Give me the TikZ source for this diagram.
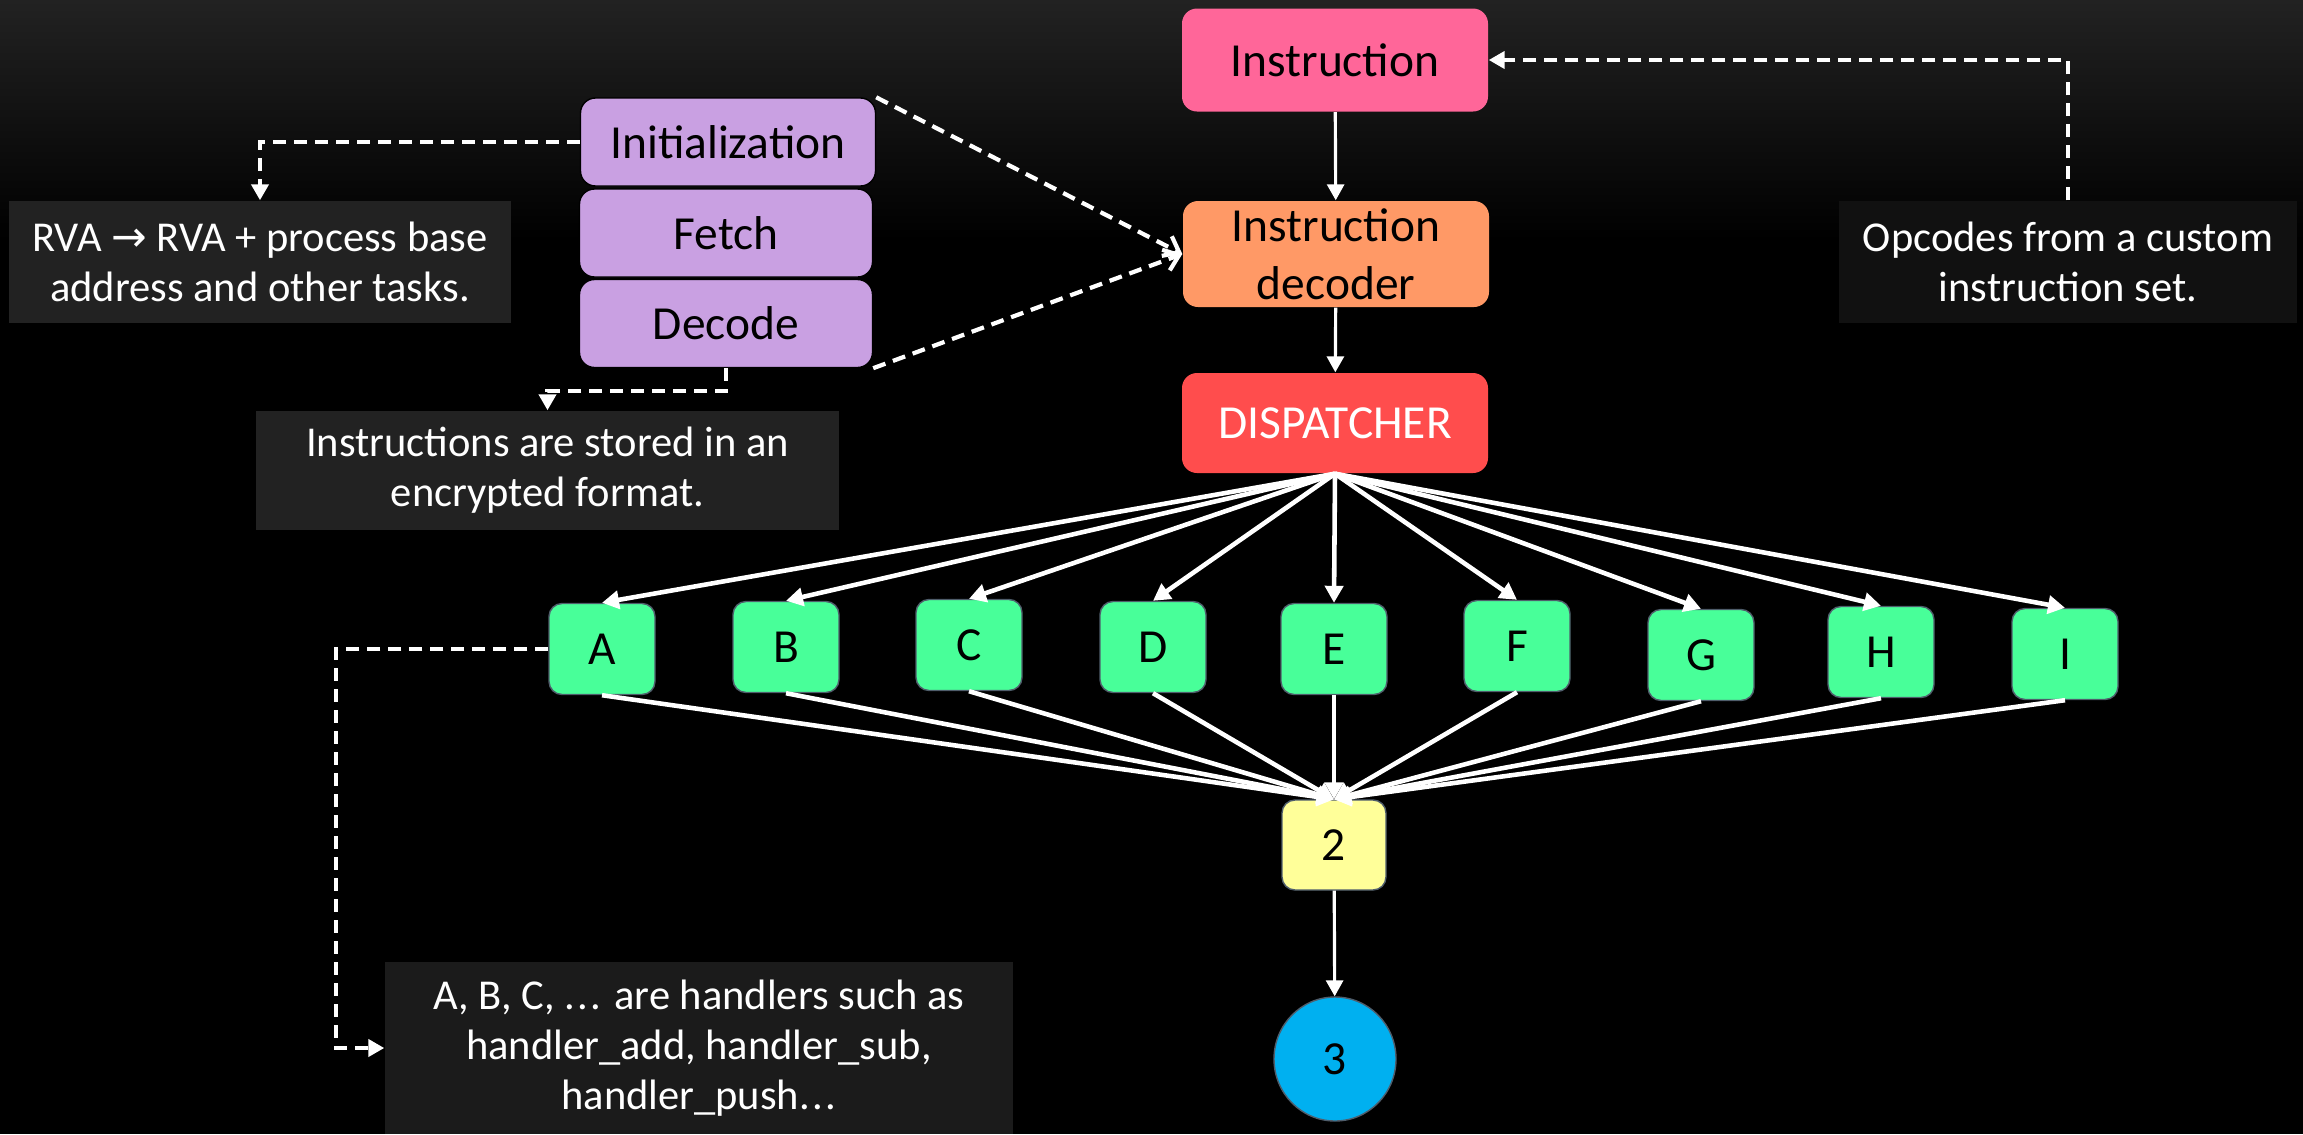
\documentclass[tikz,border=0pt]{standalone}
\usepackage{fontspec}
\setmainfont{Carlito}
\newfontfamily\symfont{DejaVu Sans}
\usetikzlibrary{arrows.meta,shapes.geometric}
\definecolor{instrpink}{HTML}{FF6699}
\definecolor{decorange}{HTML}{FF9966}
\definecolor{disred}{HTML}{FF4D4D}
\definecolor{stagepurple}{HTML}{C9A0E2}
\definecolor{handgreen}{HTML}{48FF99}
\definecolor{twoyellow}{HTML}{FFFF99}
\definecolor{threeblue}{HTML}{00B0F0}
\definecolor{edgegray}{HTML}{4F5D6B}
\definecolor{notegray}{HTML}{222222}
\definecolor{notedark}{HTML}{111111}
\definecolor{notemid}{HTML}{1B1B1B}
\begin{document}
\begin{tikzpicture}[
        flowbox/.style={rectangle, rounded corners=0.15cm, inner sep=0pt,
            minimum width=3.06cm, minimum height=1.03cm, align=center,
            font=\fontsize{13.5}{16.5}\selectfont},
        stagebox/.style={rectangle, rounded corners=0.15cm, inner sep=0pt,
            draw=black, fill=stagepurple, minimum width=2.93cm,
            minimum height=0.88cm, font=\fontsize{13.5}{16.5}\selectfont},
        handlerbox/.style={rectangle, rounded corners=0.13cm, inner sep=0pt,
            draw=edgegray, fill=handgreen, minimum width=1.06cm,
            minimum height=0.91cm, font=\fontsize{13.5}{16.5}\selectfont},
        notebox/.style={rectangle, inner sep=0pt, text=white, align=center,
            font=\fontsize{12.1}{14.2}\selectfont},
        flowline/.style={white, line width=0.9pt, -{Triangle[length=1.6mm,width=1.7mm]}},
        fanline/.style={white, line width=1.3pt, -{Triangle[length=1.7mm,width=1.8mm]}},
        dashline/.style={white, line width=1.2pt, dash pattern=on 0.13cm off 0.08cm,
            -{Triangle[length=1.6mm,width=1.7mm]}}
    ]
    % background
    \fill[black] (0,0) rectangle (23.03,-11.34);
    \shade[top color=notegray, bottom color=black] (0,0) rectangle (23.03,-2.4);
    \useasboundingbox (0,0) rectangle (23.03,-11.34);

    % main flow
    \node[flowbox, fill=instrpink] (instr) at (13.35,-0.60) {Instruction};
    \node[flowbox, fill=decorange, minimum height=1.06cm] (decoder) at (13.36,-2.54)
        {Instruction\\decoder};
    \node[flowbox, fill=disred, text=white, minimum height=1.00cm] (dispatch) at (13.35,-4.23)
        {DISPATCHER};

    % vm stages
    \node[stagebox, minimum width=2.95cm] (init) at (7.28,-1.42) {Initialization};
    \node[stagebox] (fetch) at (7.26,-2.33) {Fetch};
    \node[stagebox] (decode) at (7.26,-3.235) {Decode};

    % notes
    \node[notebox, fill=notegray, minimum width=5.02cm, minimum height=1.22cm] (rvanote)
        at (2.60,-2.62) {RVA {\symfont\symbol{"2192}} RVA + process base\\address and other tasks.};
    \node[notebox, fill=notegray, minimum width=5.83cm, minimum height=1.19cm] (encnote)
        at (5.475,-4.705) {Instructions are stored in an\\encrypted format.};
    \node[notebox, fill=notedark, minimum width=4.58cm, minimum height=1.22cm] (opnote)
        at (20.68,-2.62) {Opcodes from a custom\\instruction set.};
    \node[notebox, fill=notemid, minimum width=6.28cm, minimum height=1.72cm] (hnote)
        at (6.99,-10.48) {A, B, C, .\kern0.06em.\kern0.06em. are handlers such as\\handler\_add, handler\_sub,\\handler\_push.\kern0.06em.\kern0.06em.};

    % handlers
    \node[handlerbox] (A) at (6.02,-6.49) {A};
    \node[handlerbox] (B) at (7.86,-6.47) {B};
    \node[handlerbox] (C) at (9.69,-6.45) {C};
    \node[handlerbox] (D) at (11.53,-6.47) {D};
    \node[handlerbox] (E) at (13.34,-6.49) {E};
    \node[handlerbox] (F) at (15.17,-6.46) {F};
    \node[handlerbox] (G) at (17.01,-6.55) {G};
    \node[handlerbox] (H) at (18.81,-6.52) {H};
    \node[handlerbox] (I) at (20.65,-6.54) {I};

    \node[rectangle, rounded corners=0.13cm, draw=edgegray, fill=twoyellow, inner sep=0pt,
        minimum width=1.04cm, minimum height=0.90cm, font=\fontsize{13.5}{16.5}\selectfont]
        (two) at (13.34,-8.45) {2};
    \node[ellipse, draw=edgegray, fill=threeblue, inner sep=0pt, minimum width=1.22cm,
        minimum height=1.24cm, font=\fontsize{13.5}{16.5}\selectfont]
        (three) at (13.35,-10.59) {3};

    % solid connectors
    \draw[flowline] (instr) -- (decoder);
    \draw[flowline] (decoder) -- (dispatch);
    \foreach \h in {A,B,C,D,E,F,G,H,I} {
        \draw[fanline] (dispatch.south) -- (\h.north);
        \draw[fanline] (\h.south) -- (two.north);
    }
    \draw[flowline] (two) -- (three);

    % dashed connectors
    \draw[dashline] (init.west) -| (rvanote.north);
    \draw[dashline] (decode.south) -- ++(0,-0.23) -| (encnote.north);
    \draw[dashline, -{Straight Barb[length=1.4mm,width=2.2mm]}] (init.north east) -- (decoder.west);
    \draw[dashline, -{Straight Barb[length=1.4mm,width=2.2mm]}] (decode.south east) -- (decoder.west);
    \draw[dashline] (opnote.north) |- (instr.east);
    \draw[dashline] (A.west) -- ++(-2.12,0) |- (hnote.west);
\end{tikzpicture}
\end{document}
